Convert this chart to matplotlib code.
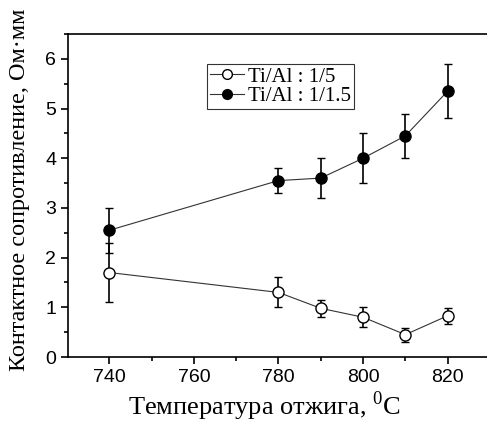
import matplotlib
matplotlib.use("Agg")
import matplotlib.pyplot as plt
from matplotlib.lines import Line2D
from matplotlib.ticker import MultipleLocator

# data
temp_15 = [740, 780, 790, 800, 810, 820]
res_15 = [2.55, 3.55, 3.6, 4.0, 4.45, 5.35]
err_15 = [0.45, 0.25, 0.4, 0.5, 0.45, 0.55]

temp_5 = [740, 780, 790, 800, 810, 820]
res_5 = [1.7, 1.3, 0.98, 0.8, 0.45, 0.83]
err_5 = [0.6, 0.3, 0.17, 0.2, 0.14, 0.16]

labels = ["Ti/Al : 1/5", "Ti/Al : 1/1.5"]
faces = ["white", "black"]

plt.rcParams["mathtext.fontset"] = "custom"
plt.rcParams["mathtext.rm"] = "Liberation Serif"

fig = plt.figure(figsize=(4.87, 4.25), dpi=100)
ax = fig.add_axes([0.14, 0.16, 0.86, 0.76])

for t, r, e, fc in [(temp_5, res_5, err_5, faces[0]), (temp_15, res_15, err_15, faces[1])]:
    ax.errorbar(t, r, yerr=e, fmt="-o", color="#333333", lw=0.8,
                mfc=fc, mec="black", ms=8, mew=1.0,
                ecolor="black", elinewidth=1.2, capsize=3, capthick=1.2)

ax.set_xlim(730.3, 829.3)
ax.set_ylim(0, 6.5)
ax.xaxis.set_major_locator(MultipleLocator(20))
ax.xaxis.set_minor_locator(MultipleLocator(10))
ax.yaxis.set_major_locator(MultipleLocator(1))
ax.yaxis.set_minor_locator(MultipleLocator(0.5))
ax.tick_params(which="both", direction="out", top=False, right=False, width=1.2)
ax.tick_params(which="major", length=5, labelsize=14)
ax.tick_params(which="minor", length=3)
for lab in ax.get_xticklabels() + ax.get_yticklabels():
    lab.set_family("Liberation Sans")
for s in ["left", "bottom", "top"]:
    ax.spines[s].set_linewidth(1.2)
ax.spines["right"].set_visible(False)

ax.set_xlabel("Температура отжига, $^{0}$C", family="Liberation Serif", fontsize=19)
ax.xaxis.set_label_coords(0.468, -0.1)
ax.set_ylabel("Контактное сопротивление, Ом·мм", family="Liberation Serif", fontsize=17.5)
ax.yaxis.set_label_coords(-0.092, 0.517)

handles = [Line2D([], [], color="#333333", lw=0.8, marker="o", ms=7, mfc=fc, mec="black")
           for fc in faces]
leg = ax.legend(handles, labels, loc="upper left", bbox_to_anchor=(0.332, 0.907), frameon=True,
                fancybox=False, edgecolor="black", handlelength=1.6, handletextpad=0.2,
                borderpad=0.15, labelspacing=0.0, borderaxespad=0,
                prop={"family": "Liberation Serif", "size": 15})
leg.get_frame().set_linewidth(0.8)

fig.savefig("out.png", dpi=100)
